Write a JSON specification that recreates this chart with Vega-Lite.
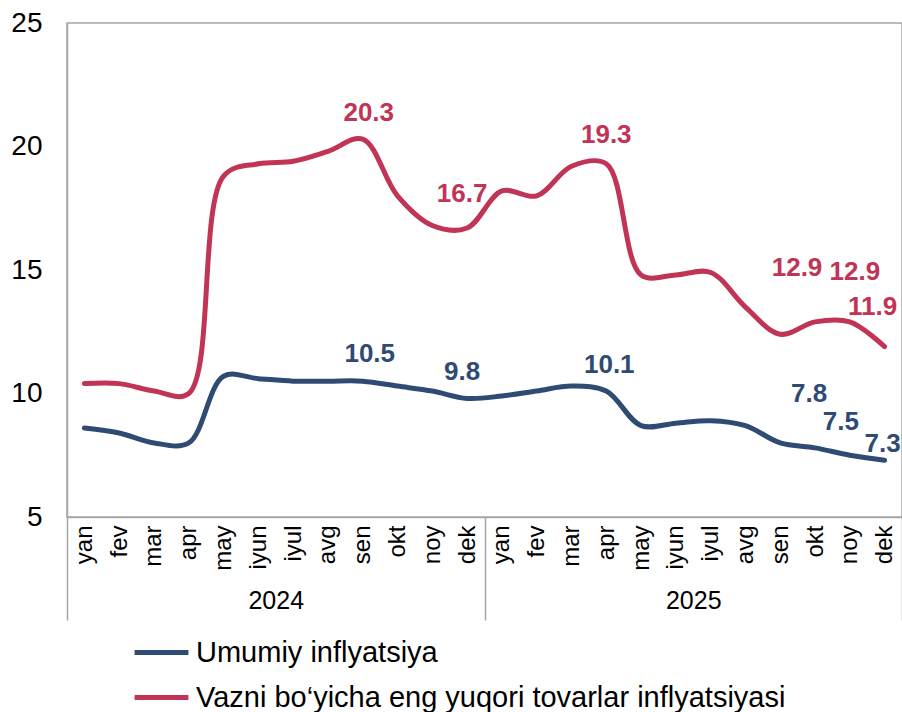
{
  "$schema": "https://vega.github.io/schema/vega-lite/v6.json",
  "width": 835,
  "height": 494,
  "autosize": "none",
  "padding": {"left": 67, "top": 23, "right": 0, "bottom": 195},
  "background": "white",
  "config": {
    "view": {"stroke": "#A6A6A6", "strokeWidth": 1.5},
    "font": "Liberation Sans",
    "text": {"font": "Liberation Sans"}
  },
  "data": {
    "values": [
      {"k": "2024-01", "year": "2024", "g": "U", "s": "Umumiy inflyatsiya", "v": 8.6},
      {"k": "2024-02", "year": "2024", "g": "U", "s": "Umumiy inflyatsiya", "v": 8.4},
      {"k": "2024-03", "year": "2024", "g": "U", "s": "Umumiy inflyatsiya", "v": 8.0},
      {"k": "2024-04", "year": "2024", "g": "U", "s": "Umumiy inflyatsiya", "v": 8.0},
      {"k": "2024-05", "year": "2024", "g": "U", "s": "Umumiy inflyatsiya", "v": 10.7},
      {"k": "2024-06", "year": "2024", "g": "U", "s": "Umumiy inflyatsiya", "v": 10.6},
      {"k": "2024-07", "year": "2024", "g": "U", "s": "Umumiy inflyatsiya", "v": 10.5},
      {"k": "2024-08", "year": "2024", "g": "U", "s": "Umumiy inflyatsiya", "v": 10.5},
      {"k": "2024-09", "year": "2024", "g": "U", "s": "Umumiy inflyatsiya", "v": 10.5},
      {"k": "2024-10", "year": "2024", "g": "U", "s": "Umumiy inflyatsiya", "v": 10.3},
      {"k": "2024-11", "year": "2024", "g": "U", "s": "Umumiy inflyatsiya", "v": 10.1},
      {"k": "2024-12", "year": "2024", "g": "U", "s": "Umumiy inflyatsiya", "v": 9.8},
      {"k": "2025-01", "year": "2025", "g": "U", "s": "Umumiy inflyatsiya", "v": 9.9},
      {"k": "2025-02", "year": "2025", "g": "U", "s": "Umumiy inflyatsiya", "v": 10.1},
      {"k": "2025-03", "year": "2025", "g": "U", "s": "Umumiy inflyatsiya", "v": 10.3},
      {"k": "2025-04", "year": "2025", "g": "U", "s": "Umumiy inflyatsiya", "v": 10.1},
      {"k": "2025-05", "year": "2025", "g": "U", "s": "Umumiy inflyatsiya", "v": 8.7},
      {"k": "2025-06", "year": "2025", "g": "U", "s": "Umumiy inflyatsiya", "v": 8.8},
      {"k": "2025-07", "year": "2025", "g": "U", "s": "Umumiy inflyatsiya", "v": 8.9},
      {"k": "2025-08", "year": "2025", "g": "U", "s": "Umumiy inflyatsiya", "v": 8.7},
      {"k": "2025-09", "year": "2025", "g": "U", "s": "Umumiy inflyatsiya", "v": 8.0},
      {"k": "2025-10", "year": "2025", "g": "U", "s": "Umumiy inflyatsiya", "v": 7.8},
      {"k": "2025-11", "year": "2025", "g": "U", "s": "Umumiy inflyatsiya", "v": 7.5},
      {"k": "2025-12", "year": "2025", "g": "U", "s": "Umumiy inflyatsiya", "v": 7.3},
      {"k": "2024-01", "year": "2024", "g": "V", "s": "Vazni bo‘yicha eng yuqori tovarlar inflyatsiyasi", "v": 10.4},
      {"k": "2024-02", "year": "2024", "g": "V", "s": "Vazni bo‘yicha eng yuqori tovarlar inflyatsiyasi", "v": 10.4},
      {"k": "2024-03", "year": "2024", "g": "V", "s": "Vazni bo‘yicha eng yuqori tovarlar inflyatsiyasi", "v": 10.1},
      {"k": "2024-04", "year": "2024", "g": "V", "s": "Vazni bo‘yicha eng yuqori tovarlar inflyatsiyasi", "v": 10.0},
      {"k": "2024-05", "year": "2024", "g": "V", "s": "Vazni bo‘yicha eng yuqori tovarlar inflyatsiyasi", "v": 18.8},
      {"k": "2024-06", "year": "2024", "g": "V", "s": "Vazni bo‘yicha eng yuqori tovarlar inflyatsiyasi", "v": 19.3},
      {"k": "2024-07", "year": "2024", "g": "V", "s": "Vazni bo‘yicha eng yuqori tovarlar inflyatsiyasi", "v": 19.4},
      {"k": "2024-08", "year": "2024", "g": "V", "s": "Vazni bo‘yicha eng yuqori tovarlar inflyatsiyasi", "v": 19.8},
      {"k": "2024-09", "year": "2024", "g": "V", "s": "Vazni bo‘yicha eng yuqori tovarlar inflyatsiyasi", "v": 20.3},
      {"k": "2024-10", "year": "2024", "g": "V", "s": "Vazni bo‘yicha eng yuqori tovarlar inflyatsiyasi", "v": 18.0},
      {"k": "2024-11", "year": "2024", "g": "V", "s": "Vazni bo‘yicha eng yuqori tovarlar inflyatsiyasi", "v": 16.8},
      {"k": "2024-12", "year": "2024", "g": "V", "s": "Vazni bo‘yicha eng yuqori tovarlar inflyatsiyasi", "v": 16.7},
      {"k": "2025-01", "year": "2025", "g": "V", "s": "Vazni bo‘yicha eng yuqori tovarlar inflyatsiyasi", "v": 18.2},
      {"k": "2025-02", "year": "2025", "g": "V", "s": "Vazni bo‘yicha eng yuqori tovarlar inflyatsiyasi", "v": 18.0},
      {"k": "2025-03", "year": "2025", "g": "V", "s": "Vazni bo‘yicha eng yuqori tovarlar inflyatsiyasi", "v": 19.2},
      {"k": "2025-04", "year": "2025", "g": "V", "s": "Vazni bo‘yicha eng yuqori tovarlar inflyatsiyasi", "v": 19.3},
      {"k": "2025-05", "year": "2025", "g": "V", "s": "Vazni bo‘yicha eng yuqori tovarlar inflyatsiyasi", "v": 14.8},
      {"k": "2025-06", "year": "2025", "g": "V", "s": "Vazni bo‘yicha eng yuqori tovarlar inflyatsiyasi", "v": 14.8},
      {"k": "2025-07", "year": "2025", "g": "V", "s": "Vazni bo‘yicha eng yuqori tovarlar inflyatsiyasi", "v": 14.9},
      {"k": "2025-08", "year": "2025", "g": "V", "s": "Vazni bo‘yicha eng yuqori tovarlar inflyatsiyasi", "v": 13.5},
      {"k": "2025-09", "year": "2025", "g": "V", "s": "Vazni bo‘yicha eng yuqori tovarlar inflyatsiyasi", "v": 12.4},
      {"k": "2025-10", "year": "2025", "g": "V", "s": "Vazni bo‘yicha eng yuqori tovarlar inflyatsiyasi", "v": 12.9},
      {"k": "2025-11", "year": "2025", "g": "V", "s": "Vazni bo‘yicha eng yuqori tovarlar inflyatsiyasi", "v": 12.9},
      {"k": "2025-12", "year": "2025", "g": "V", "s": "Vazni bo‘yicha eng yuqori tovarlar inflyatsiyasi", "v": 11.9}
    ]
  },
  "layer": [
    {
      "encoding": {
        "x": {
          "field": "k", "type": "ordinal",
          "scale": {"type": "point", "padding": 0.5},
          "axis": {
            "orient": "bottom", "title": null,
            "domainColor": "#A6A6A6", "domainWidth": 1.5,
            "ticks": false,
            "labelAngle": -90, "labelAlign": "right", "labelBaseline": "middle",
            "labelPadding": 8, "labelFontSize": 24, "labelColor": "black",
            "labelFont": "Liberation Sans",
            "labelExpr": "['yan','fev','mar','apr','may','iyun','iyul','avg','sen','okt','noy','dek'][toNumber(substring(datum.value,5,7))-1]"
          }
        },
        "y": {
          "field": "v", "type": "quantitative",
          "scale": {"domain": [5, 25], "nice": false, "zero": false},
          "axis": {
            "values": [5, 10, 15, 20, 25], "title": null, "grid": false, "ticks": false,
            "domainColor": "#A6A6A6", "domainWidth": 1.5,
            "labelFontSize": 28, "labelPadding": 25, "labelColor": "black",
            "labelFont": "Liberation Sans"
          }
        },
        "color": {
          "field": "s", "type": "nominal",
          "scale": {
            "domain": ["Umumiy inflyatsiya", "Vazni bo‘yicha eng yuqori tovarlar inflyatsiyasi"],
            "range": ["#2F4B73", "#C13456"]
          },
          "legend": {
            "title": null, "orient": "none", "legendX": 65, "legendY": 600,
            "symbolType": "stroke", "symbolStrokeWidth": 5, "symbolSize": 2900,
            "labelFontSize": 29, "labelFont": "Liberation Sans", "labelColor": "black",
            "labelOffset": 5, "rowPadding": -15, "labelLimit": 1000
          }
        }
      },
      "layer": [
        {"mark": {"type": "line", "interpolate": "catmull-rom", "strokeWidth": 5, "strokeCap": "round"}},
        {"transform": [{"filter": "datum.g=='V' && datum.k=='2024-09'"}], "mark": {"type": "text", "fontSize": 26, "fontWeight": "bold", "baseline": "middle", "dx": 6, "dy": -26}, "encoding": {"text": {"field": "v", "type": "quantitative", "format": ".1f"}}},
        {"transform": [{"filter": "datum.g=='V' && datum.k=='2024-12'"}], "mark": {"type": "text", "fontSize": 26, "fontWeight": "bold", "baseline": "middle", "dx": -5, "dy": -34}, "encoding": {"text": {"field": "v", "type": "quantitative", "format": ".1f"}}},
        {"transform": [{"filter": "datum.g=='V' && datum.k=='2025-04'"}], "mark": {"type": "text", "fontSize": 26, "fontWeight": "bold", "baseline": "middle", "dx": 0, "dy": -29}, "encoding": {"text": {"field": "v", "type": "quantitative", "format": ".1f"}}},
        {"transform": [{"filter": "datum.g=='V' && datum.k=='2025-10'"}], "mark": {"type": "text", "fontSize": 26, "fontWeight": "bold", "baseline": "middle", "dx": -18, "dy": -54}, "encoding": {"text": {"field": "v", "type": "quantitative", "format": ".1f"}}},
        {"transform": [{"filter": "datum.g=='V' && datum.k=='2025-11'"}], "mark": {"type": "text", "fontSize": 26, "fontWeight": "bold", "baseline": "middle", "dx": 5, "dy": -50}, "encoding": {"text": {"field": "v", "type": "quantitative", "format": ".1f"}}},
        {"transform": [{"filter": "datum.g=='V' && datum.k=='2025-12'"}], "mark": {"type": "text", "fontSize": 26, "fontWeight": "bold", "baseline": "middle", "dx": -12, "dy": -40}, "encoding": {"text": {"field": "v", "type": "quantitative", "format": ".1f"}}},
        {"transform": [{"filter": "datum.g=='U' && datum.k=='2024-09'"}], "mark": {"type": "text", "fontSize": 26, "fontWeight": "bold", "baseline": "middle", "dx": 7, "dy": -27}, "encoding": {"text": {"field": "v", "type": "quantitative", "format": ".1f"}}},
        {"transform": [{"filter": "datum.g=='U' && datum.k=='2024-12'"}], "mark": {"type": "text", "fontSize": 26, "fontWeight": "bold", "baseline": "middle", "dx": -5, "dy": -26}, "encoding": {"text": {"field": "v", "type": "quantitative", "format": ".1f"}}},
        {"transform": [{"filter": "datum.g=='U' && datum.k=='2025-04'"}], "mark": {"type": "text", "fontSize": 26, "fontWeight": "bold", "baseline": "middle", "dx": 3, "dy": -26}, "encoding": {"text": {"field": "v", "type": "quantitative", "format": ".1f"}}},
        {"transform": [{"filter": "datum.g=='U' && datum.k=='2025-10'"}], "mark": {"type": "text", "fontSize": 26, "fontWeight": "bold", "baseline": "middle", "dx": -6, "dy": -54}, "encoding": {"text": {"field": "v", "type": "quantitative", "format": ".1f"}}},
        {"transform": [{"filter": "datum.g=='U' && datum.k=='2025-11'"}], "mark": {"type": "text", "fontSize": 26, "fontWeight": "bold", "baseline": "middle", "dx": -9, "dy": -33}, "encoding": {"text": {"field": "v", "type": "quantitative", "format": ".1f"}}},
        {"transform": [{"filter": "datum.g=='U' && datum.k=='2025-12'"}], "mark": {"type": "text", "fontSize": 26, "fontWeight": "bold", "baseline": "middle", "dx": -2, "dy": -16}, "encoding": {"text": {"field": "v", "type": "quantitative", "format": ".1f"}}}
      ]
    },
    {
      "mark": {"type": "point", "opacity": 0},
      "encoding": {
        "x": {
          "field": "year", "type": "ordinal",
          "scale": {"type": "band", "paddingInner": 0, "paddingOuter": 0},
          "axis": {
            "orient": "bottom", "title": null, "domain": false,
            "ticks": true, "tickBand": "extent", "tickSize": 103,
            "tickColor": "#A6A6A6", "tickWidth": 1.5,
            "labelPadding": -32, "labelFontSize": 25, "labelColor": "black",
            "labelAngle": 0, "labelFont": "Liberation Sans"
          }
        },
        "y": {"field": "v", "type": "quantitative"}
      }
    }
  ],
  "resolve": {"scale": {"x": "independent"}, "axis": {"x": "independent"}}
}
